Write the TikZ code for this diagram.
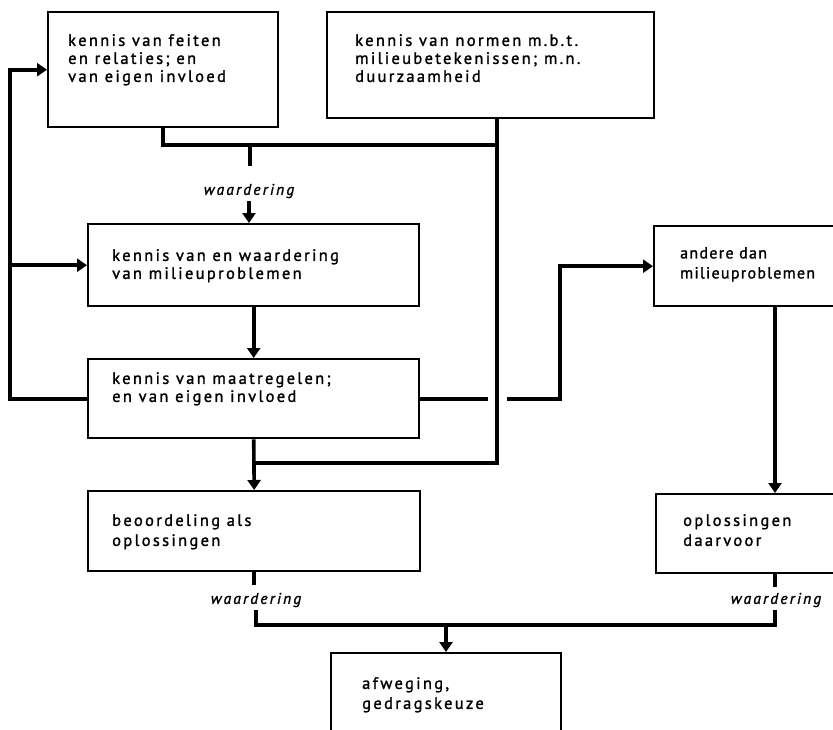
\documentclass[tikz,border=0pt]{standalone}
\usepackage{fontspec}
\setmainfont{PT Sans}[LetterSpace=14,FakeBold=1.4]
\usetikzlibrary{arrows.meta,calc}
\begin{document}
\begin{tikzpicture}[x=1pt,y=-1pt,
  box/.style={draw,line width=2.4pt,rectangle,inner sep=0pt,anchor=north west},
  txt/.style={inner sep=0pt,anchor=north west,align=left,font=\fontsize{16.5}{18}\selectfont},
  txtw/.style={txt,font=\fontsize{16.5}{20}\selectfont},
  lbl/.style={inner sep=3pt,font=\fontsize{15.5}{18}\selectfont\itshape},
  conn/.style={line width=3.6pt},
  arr/.style={conn,-{Triangle[width=13pt,length=10pt]}}]
\useasboundingbox (0,0) rectangle (833,729);
\clip (0,0) rectangle (833,729);
% boxes
\node[box,minimum width=230pt,minimum height=115pt] (A) at (47,11) {};
\node[box,minimum width=327pt,minimum height=106pt] (B) at (326,11) {};
\node[box,minimum width=331pt,minimum height=82pt] (C) at (87,223) {};
\node[box,minimum width=331pt,minimum height=79pt] (D) at (87,358) {};
\node[box,minimum width=332pt,minimum height=80pt] (E) at (87,490) {};
\node[box,minimum width=220pt,minimum height=80pt] (F) at (653,225) {};
\node[box,minimum width=220pt,minimum height=79pt] (G) at (655,493) {};
\node[box,minimum width=230pt,minimum height=110pt] (H) at (330,652) {};
% texts
\node[txt] (At) at (68,34) {kennis van feiten\\en relaties; en\\van eigen invloed};
\node[txt] (Bt) at (355,34) {kennis van normen m.b.t.\\milieubetekenissen; m.n.\\duurzaamheid};
\node[txt] (Ct) at (112,249) {kennis van en waardering\\van milieuproblemen};
\node[txt] (Dt) at (112,372) {kennis van maatregelen;\\en van eigen invloed};
\node[txtw] (Et) at (112,514) {beoordeling als\\oplossingen};
\node[txtw,font=\fontsize{16}{20}\selectfont\addfontfeatures{LetterSpace=8}] (Ft) at (680,247) {andere dan\\milieuproblemen};
\node[txtw] (Gt) at (683,514) {oplossingen\\daarvoor};
\node[txtw] (Ht) at (362,677) {afweging,\\gedragskeuze};
% labels
\node[lbl] (w1) at (249,191) {waardering};
\node[lbl] (w2) at (256,600) {waardering};
\node[lbl] (w3) at (776,600) {waardering};
% coordinates
\coordinate (j1) at (250,145);
\coordinate (j2) at (497,145);
\coordinate (j4) at (252,463);
\coordinate (fl) at (10,0);
\coordinate (gapL) at (488,0);
\coordinate (gapR) at (507,0);
\coordinate (k) at (560,0);
\coordinate (gx) at (775,0);
\coordinate (jb) at (446,625);
% connectors
\draw[conn] (A.south) |- (j2);
\draw[conn] (B.south -| j2) |- (j4);
\draw[conn] (j1) -- ++(0,21);
\draw[arr] (w1.south) -- (w1.south |- C.north);
\draw[arr] (C.south) -- (D.north);
\draw[arr] (D.south) -- (E.north);
\draw[arr] (D.west) -| (fl |- A.west) -- (A.west);
\draw[arr] (fl |- C.west) -- (C.west);
\draw[conn] (D.east) -- (gapL |- D.east);
\draw[arr] (gapR |- D.east) -| (k |- F.west) -- (F.west);
\draw[arr] (F.south -| gx) -- (G.north -| gx);
\draw[conn] (E.south) -- ++(0,13);
\draw[conn] (G.south -| gx) -- ++(0,13);
\draw[conn] (w2.south) |- (jb) -| (w3.south -| gx);
\draw[arr] (jb) -- (jb |- H.north);
\end{tikzpicture}
\end{document}
